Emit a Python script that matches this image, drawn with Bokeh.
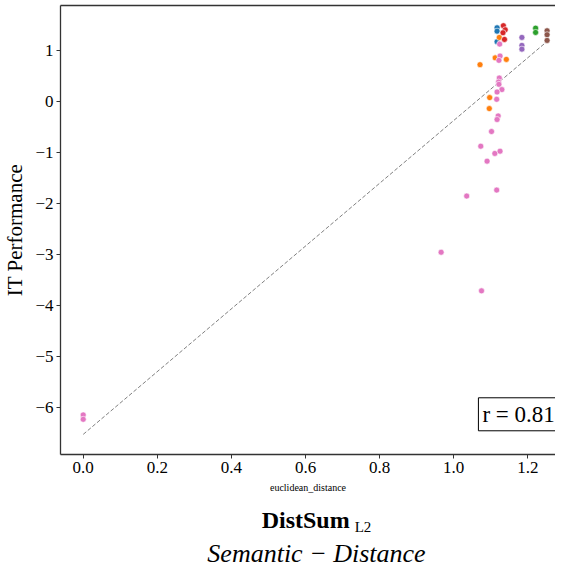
from bokeh.plotting import figure
from bokeh.models import FixedTicker, Label, LinearAxis, Div
from bokeh.layouts import column
from bokeh.embed import file_html
from bokeh.resources import INLINE

# ---- data ----
blue_x = [1.117, 1.117, 1.117]
blue_y = [1.439, 1.373, 1.166]
red_x = [1.134, 1.139, 1.133, 1.137]
red_y = [1.479, 1.400, 1.342, 1.211]
orange_x = [1.123, 1.112, 1.142, 1.071, 1.097, 1.096]
orange_y = [1.25, 0.85, 0.82, 0.717, 0.072, -0.143]
green_x = [1.221, 1.221]
green_y = [1.432, 1.348]
brown_x = [1.252, 1.252, 1.252]
brown_y = [1.381, 1.303, 1.191]
purple_x = [1.184, 1.184, 1.184]
purple_y = [1.25, 1.094, 1.021]
pink_x = [1.124, 1.125, 1.122, 1.123, 1.121, 1.122, 1.130, 1.117, 1.116, 1.120,
          1.117, 1.102, 1.073, 1.111, 1.125, 1.090, 1.116, 1.035, 0.966, 1.075,
          0.0, 0.0]
pink_y = [1.119, 0.885, 0.801, 0.455, 0.377, 0.332, 0.229, 0.182, 0.039, -0.287,
          -0.357, -0.592, -0.879, -1.021, -0.977, -1.172, -1.738, -1.855, -2.955, -3.711,
          -6.139, -6.225]
fit_x = [0.0, 1.25]
fit_y = [-6.52, 1.16]
r_value = 0.81

x_ticks = [0.0, 0.2, 0.4, 0.6, 0.8, 1.0, 1.2]
x_tick_labels = ["0.0", "0.2", "0.4", "0.6", "0.8", "1.0", "1.2"]
y_ticks = [-6, -5, -4, -3, -2, -1, 0, 1]
y_tick_labels = ["\u22126", "\u22125", "\u22124", "\u22123", "\u22122", "\u22121", "0", "1"]

series = [
    (blue_x, blue_y, "#1f77b4"),
    (orange_x, orange_y, "#ff7f0e"),
    (green_x, green_y, "#2ca02c"),
    (red_x, red_y, "#d62728"),
    (purple_x, purple_y, "#9467bd"),
    (brown_x, brown_y, "#8c564b"),
    (pink_x, pink_y, "#e377c2"),
]

FONT = "Liberation Serif"
AX = "#333333"

p = figure(width=555, height=495, x_range=(-0.0613, 1.2747), y_range=(-6.914, 1.875),
           output_backend="svg", toolbar_location=None,
           min_border_left=54, min_border_right=0, min_border_top=5, min_border_bottom=40)
p.grid.visible = False
p.outline_line_color = None
p.background_fill_color = "white"
p.border_fill_color = "white"

p.xaxis.ticker = FixedTicker(ticks=x_ticks)
p.xaxis.major_label_overrides = {t: l for t, l in zip(x_ticks, x_tick_labels)}
p.yaxis.ticker = FixedTicker(ticks=y_ticks)
p.yaxis.major_label_overrides = {t: l for t, l in zip(y_ticks, y_tick_labels)}
for axs in (p.xaxis, p.yaxis):
    axs.minor_tick_line_color = None
    axs.major_tick_out = 4
    axs.major_tick_in = 0
    axs.major_label_text_font = FONT
    axs.major_label_text_font_size = "17px"
    axs.major_label_text_color = "black"
    axs.axis_line_color = AX
    axs.axis_line_width = 1.3
    axs.major_tick_line_color = AX
    axs.axis_label_text_font = FONT
    axs.axis_label_text_font_style = "normal"
    axs.axis_label_text_color = "black"
    axs.major_label_standoff = 3

p.yaxis.axis_label = "IT Performance"
p.yaxis.axis_label_text_font_size = "21px"
p.yaxis.axis_label_standoff = 5
p.xaxis.axis_label = "euclidean_distance"
p.xaxis.axis_label_text_font_size = "10px"
p.xaxis.axis_label_standoff = 6

top = LinearAxis(ticker=FixedTicker(ticks=[]), major_label_text_font_size="0px",
                 major_tick_line_color=None, minor_tick_line_color=None,
                 axis_line_color=AX, axis_line_width=1.3)
p.add_layout(top, "above")

p.line(fit_x, fit_y, line_color="#808080", line_dash="4 2", line_width=1)
for xs, ys, c in series:
    p.scatter(xs, ys, size=6, fill_color=c, line_color="white", line_width=0.6)

# correlation box
p.add_layout(Label(x=1.262, y=-6.45, x_offset=8, text=f"r = {r_value:.2f}", text_font=FONT,
                   text_font_size="23px", text_align="right", text_color="black",
                   border_line_color="black", border_line_width=1,
                   background_fill_color="white", padding=4))

caption = Div(
    text=("<div style='width:555px;box-sizing:border-box;text-align:center;padding-left:78px;"
          "font-family:\"Liberation Serif\";color:black'>"
          "<div style='font-size:24px;font-weight:bold;line-height:28px;margin-top:11px;margin-bottom:2px'>DistSum"
          "<span style='font-size:15px;font-weight:normal;position:relative;top:4px;margin-left:5px'>L2</span></div>"
          "<div style='font-size:26px;font-style:italic;line-height:30px'>Semantic \u2212 Distance</div>"
          "</div>"),
    width=555, height=71, margin=(0, 0, 0, 0))

layout = column(p, caption, spacing=0)
open("out.html", "w").write(file_html(layout, INLINE))
